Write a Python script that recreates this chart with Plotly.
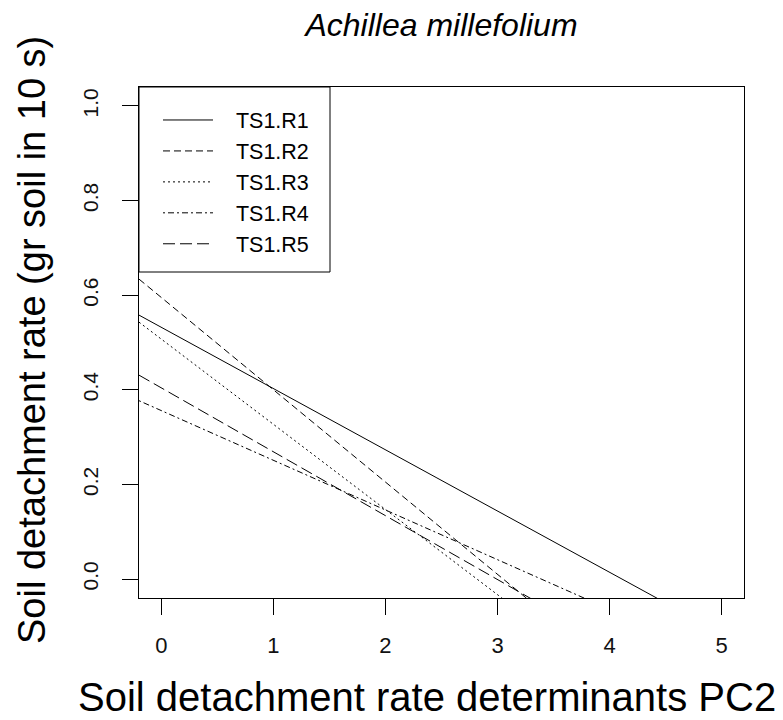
import numpy as np
import plotly.graph_objects as go

# ---- data ----
series = ["TS1.R1", "TS1.R2", "TS1.R3", "TS1.R4", "TS1.R5"]
intercepts = [0.532, 0.595, 0.507, 0.356, 0.404]   # fitted value at PC2 = 0
slopes = [-0.1294, -0.195, -0.180, -0.105, -0.135]
x_ticks = [0, 1, 2, 3, 4, 5]
y_ticks = [0.0, 0.2, 0.4, 0.6, 0.8, 1.0]
y_ticklabels = ["0.0", "0.2", "0.4", "0.6", "0.8", "1.0"]

# ---- styles ----
dashes = ["solid", "7px,4px", "2px,3px", "2px,3px,6px,3px", "12px,5px"]
FONT = "Liberation Sans, Arial, sans-serif"
x_range = [-0.2, 5.2]
y_range = [-0.04, 1.04]

W, H = 783, 720
L, R, T, B = 139, 39, 87, 122
pw, ph = W - L - R, H - T - B

fig = go.Figure()
xs = np.linspace(x_range[0], x_range[1], 200)
for name, a, b, d in zip(series, intercepts, slopes, dashes):
    fig.add_trace(go.Scatter(
        x=xs, y=a + b * xs, mode="lines", name="\u00a0\u00a0\u00a0" + name,
        line=dict(color="black", width=1, dash=d),
    ))

def px_x(p):
    return (p - L) / pw

def px_y(p):
    return (T + ph - p) / ph

# legend frame (R-style box at top-left)
fig.add_shape(type="rect", xref="paper", yref="paper",
              x0=0, x1=px_x(330), y0=px_y(272), y1=1,
              line=dict(color="black", width=1), fillcolor="rgba(0,0,0,0)")

fig.update_layout(
    width=W, height=H, autosize=False,
    margin=dict(l=L, r=R, t=T, b=B),
    paper_bgcolor="white", plot_bgcolor="white",
    font=dict(family=FONT, color="black"),
    title=dict(text="Achillea millefolium", x=0.5, xref="paper", xanchor="center",
               y=1 - 25 / H, yref="container", yanchor="middle",
               font=dict(family=FONT, size=32, style="italic", color="black")),
    showlegend=True,
    legend=dict(x=px_x(158), y=px_y(99.5), xanchor="left", yanchor="top",
                bgcolor="rgba(0,0,0,0)", borderwidth=0,
                font=dict(family=FONT, size=21.5, color="black"),
                itemwidth=50, tracegroupgap=0),
    xaxis=dict(range=x_range, tickvals=x_ticks, ticktext=[str(v) for v in x_ticks],
               showgrid=False, zeroline=False, showline=True, mirror=True,
               linecolor="black", linewidth=1, ticks="outside", ticklen=16,
               tickcolor="black", tickfont=dict(family=FONT, size=22, color="#111"),
               ticklabelstandoff=12),
    yaxis=dict(range=y_range, tickvals=y_ticks, ticktext=y_ticklabels,
               showgrid=False, zeroline=False, showline=True, mirror=True,
               linecolor="black", linewidth=1, ticks="outside", ticklen=16,
               tickcolor="black", tickangle=-90,
               tickfont=dict(family=FONT, size=21, color="#111"),
               ticklabelstandoff=16),
    annotations=[
        dict(text="Soil detachment rate determinants PC2", xref="paper", yref="paper",
             x=px_x(427), y=px_y(697), xanchor="center", yanchor="middle",
             showarrow=False, font=dict(family=FONT, size=40, color="black")),
        dict(text="Soil detachment rate (gr soil in 10 s)", xref="paper", yref="paper",
             x=px_x(32), y=px_y(340), xanchor="center", yanchor="middle", textangle=-90,
             showarrow=False, font=dict(family=FONT, size=38, color="black")),
    ],
)

fig.write_html("out.html")
